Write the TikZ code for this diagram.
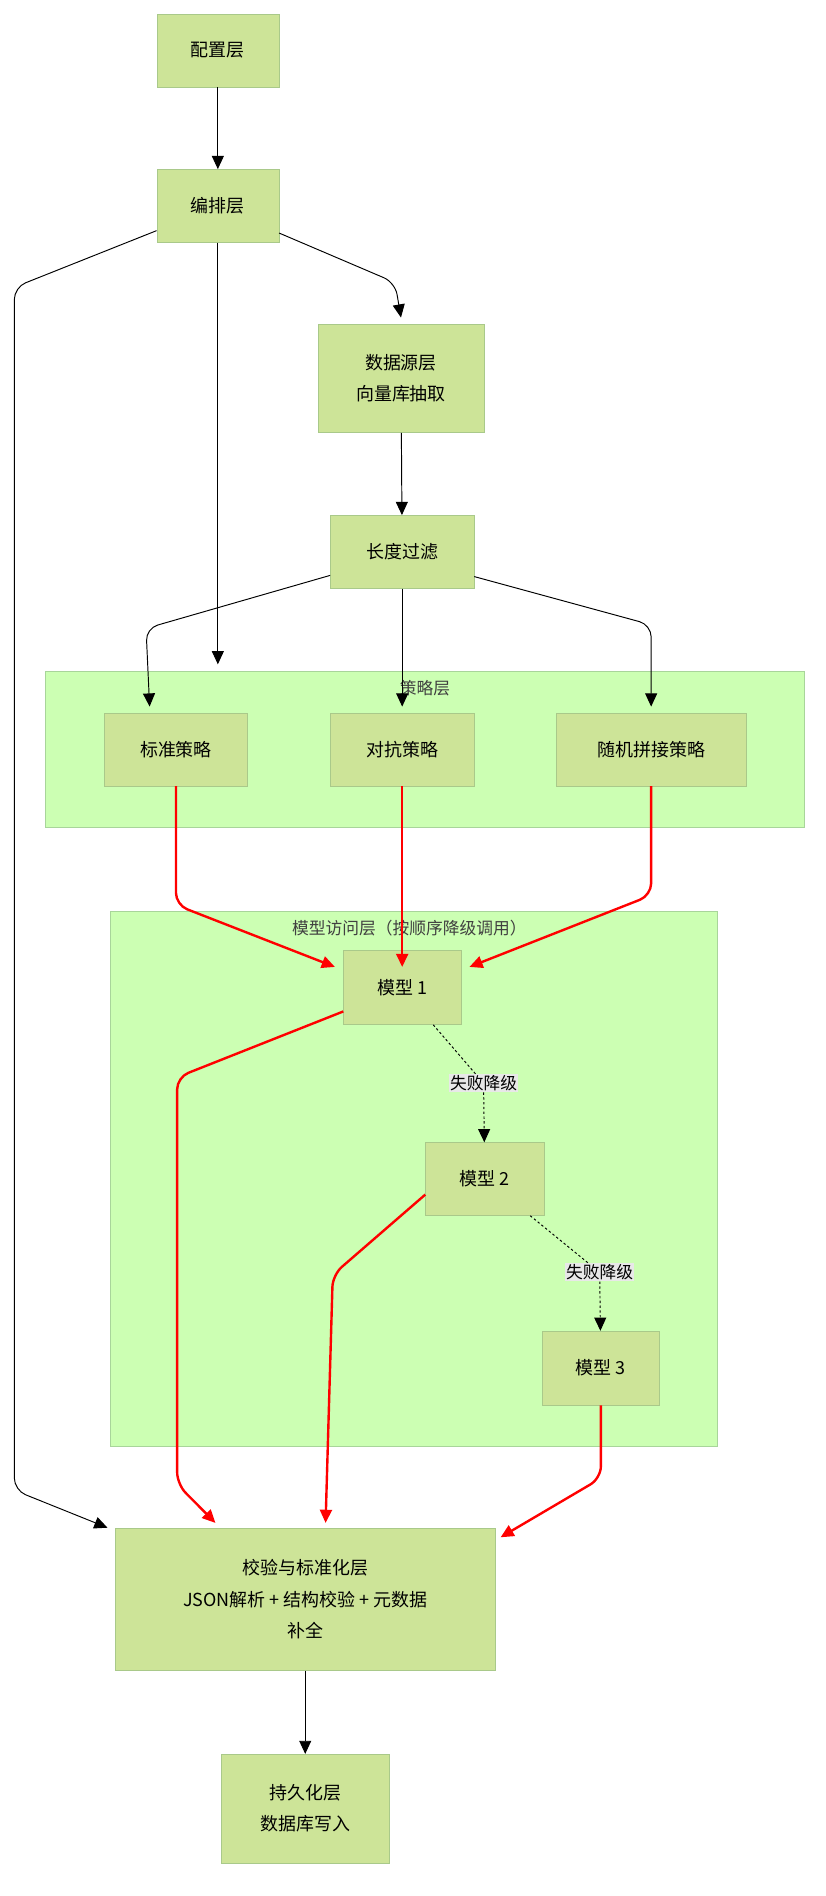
\documentclass[tikz,border=0pt]{standalone}
\usepackage{fontspec}
\setmainfont{Noto Sans CJK SC}
\usetikzlibrary{arrows.meta}
\definecolor{boxfill}{HTML}{CDE498}
\definecolor{boxline}{HTML}{A9C98A}
\definecolor{clusterfill}{HTML}{CCFFB3}
\definecolor{clusterline}{HTML}{A8D59A}
\definecolor{lblfill}{HTML}{E8E8E8}
\tikzset{
  layer/.style={draw=boxline, fill=boxfill, align=center, inner sep=0pt, font=\fontsize{15}{26}\selectfont},
  cluster/.style={draw=clusterline, fill=clusterfill},
  flow/.style={-{Triangle[length=11pt,width=10pt]}, rounded corners=10pt, line width=0.8pt},
  call/.style={-{Triangle[length=11pt,width=10pt]}, rounded corners=10pt, draw=red, line width=2pt},
  fallback/.style={dashed, dash pattern=on 2pt off 2pt, line width=0.8pt},
  fblabel/.style={fill=lblfill, inner sep=1pt, font=\fontsize{14}{16}\selectfont}
}
\begin{document}
\begin{tikzpicture}[x=1pt, y=-1pt]
    \useasboundingbox (0,0) rectangle (690,1584);

    % clusters
    \draw[cluster] (38,561) rectangle (672,691);
    \node[font=\fontsize{14}{16}\selectfont, text=black!75] (strategylbl) at (355,575) {策略层};
    \draw[cluster] (92,761) rectangle (599,1208);
    \node[font=\fontsize{14}{16}\selectfont, text=black!75] (modellbl) at (342,775) {模型访问层（按顺序降级调用）};

    % layers
    \node[layer, minimum width=102pt, minimum height=61pt] (config) at (182,42) {配置层};
    \node[layer, minimum width=102pt, minimum height=61pt] (orch) at (182,172) {编排层};
    \node[layer, minimum width=139pt, minimum height=91pt] (source) at (335,316) {数据源层\\向量库抽取};
    \node[layer, minimum width=120pt, minimum height=61pt] (filter) at (336,461) {长度过滤};

    \node[layer, minimum width=119pt, minimum height=61pt] (std) at (147,626) {标准策略};
    \node[layer, minimum width=120pt, minimum height=61pt] (adv) at (336,626) {对抗策略};
    \node[layer, minimum width=159pt, minimum height=61pt] (rand) at (544,626) {随机拼接策略};

    \node[layer, minimum width=98pt, minimum height=62pt] (m1) at (336,825) {模型 1};
    \node[layer, minimum width=99pt, minimum height=61pt] (m2) at (405,985) {模型 2};
    \node[layer, minimum width=98pt, minimum height=62pt] (m3) at (502,1143) {模型 3};

    \node[layer, minimum width=318pt, minimum height=119pt] (check) at (255,1336) {校验与标准化层\\JSON解析 + 结构校验 + 元数据\\补全};
    \node[layer, minimum width=140pt, minimum height=91pt] (store) at (255,1511) {持久化层\\数据库写入};

    \coordinate (orchend) at (182,555);

    % black flow
    \draw[flow] (orch.south west) ++(0,-10) -- (12,240) -- (12,1245) -- ([xshift=-6pt]check.north west);
    \draw[flow] (config) -- (orch);
    \draw[flow] (orch) -- (orchend);
    \draw[flow] (orch.south east) ++(0,-8) -- (330,236) -- ([yshift=5pt]source.north);
    \draw[flow] (source) -- (filter);
    \draw[flow] (filter.south west) ++(0,-11) -- (122,525) -- ([xshift=-22pt,yshift=5pt]std.north);
    \draw[flow] (filter) -- ([yshift=5pt]adv.north);
    \draw[flow] (filter.south east) ++(0,-10) -- (544,522) -- ([yshift=5pt]rand.north);
    \draw[flow] (check) -- (store);

    % model calls
    \draw[call] (std) -- (147,756) -- ([xshift=-7pt,yshift=-14pt]m1.north west);
    \draw[call] (adv) -- ([yshift=-14pt]m1.north);
    \draw[call] (rand) -- (544,748) -- ([xshift=7pt,yshift=-14pt]m1.north east);
    \draw[call] ([yshift=-20pt]m1.west) -- (148,900) -- (148,1240) -- ([xshift=-75pt,yshift=4pt]check.north);
    \draw[call] ([yshift=-13pt]m2.west) -- (278,1065) -- ([xshift=17pt,yshift=4pt]check.north);
    \draw[call] (m3) -- (502,1235) -- ([xshift=4pt,yshift=-8pt]check.north east);

    % fallback
    \node[fblabel] (fb1) at (404,905) {失败降级};
    \node[fblabel] (fb2) at (501,1063) {失败降级};
    \draw[fallback] ([xshift=26pt]m1.south) -- (fb1);
    \draw[fallback, -{Triangle[length=11pt,width=10pt]}] (fb1) -- (m2);
    \draw[fallback] ([xshift=38pt]m2.south) -- (fb2);
    \draw[fallback, -{Triangle[length=11pt,width=10pt]}] (fb2) -- (m3);
\end{tikzpicture}
\end{document}
